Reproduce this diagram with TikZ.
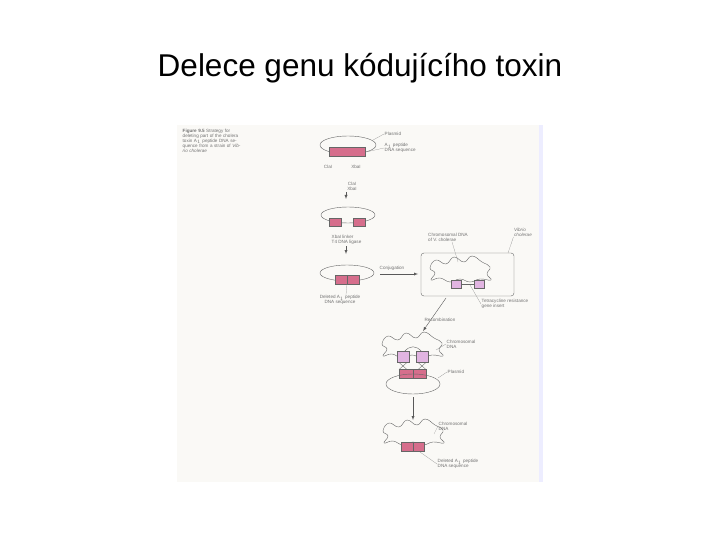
\documentclass[tikz,border=0pt]{standalone}
\usepackage{fontspec}
\setmainfont{Liberation Sans}
\usetikzlibrary{positioning,shapes}
\definecolor{gene}{RGB}{214,110,140}
\definecolor{tet}{RGB}{225,180,225}
\definecolor{paper}{RGB}{250,249,246}
\tikzset{
  lbl/.style={font=\fontsize{4.6}{5}\selectfont, text=black!55, align=left, inner sep=0.5pt},
  ring/.style={draw=black!60, thin},
  insert/.style={draw=black!60, fill=gene, line width=0.3pt},
  tetbox/.style={draw=black!60, fill=tet, line width=0.3pt},
  stage/.style={-latex, black!65, thin},
  lead/.style={black!45, line width=0.2pt}
}
\newcommand{\chromo}[2]{%
  \draw[ring, shift={(#1,#2)}] plot[smooth cycle, tension=0.8] coordinates
    {(-30,-2) (-24,-10) (-14,-6) (-6,-13) (4,-8) (12,-14) (22,-8) (30,-3)
     (27,4) (31,10) (20,9) (10,12) (0,9) (-10,12) (-20,8) (-29,10) (-25,3)};}
\begin{document}
\begin{tikzpicture}[x=1pt,y=-1pt]
  \useasboundingbox (0,0) rectangle (720,540);
  \node (title) at (360,68) {\fontsize{31.5}{36}\selectfont Delece genu kódujícího toxin};
  \fill[paper] (177,125) rectangle (543,482);
  \fill[blue!7] (539,125) rectangle (543,482);
  % caption
  \node[lbl, anchor=north west, text width=58pt] (cap) at (182,128)
    {\textbf{Figure 9.5} Strategy for deleting part of the cholera toxin A$_1$ peptide DNA sequence from a strain of \emph{Vibrio cholerae}};
  % plasmid with insert
  \draw[ring] (348,145) ellipse (28 and 9);
  \node[insert, minimum width=36pt, minimum height=9pt, inner sep=0] (g1) at (347,152) {};
  \node[lbl, anchor=west] (pl1) at (384,134) {Plasmid};
  \node[lbl, anchor=west] (a1) at (384,148) {A$_1$ peptide\\DNA sequence};
  \draw[lead] (pl1.west) -- (373,140);
  \draw[lead] (a1.west) -- (366,152);
  \node[lbl] (cla) at (328,167) {ClaI};
  \node[lbl] (xba) at (356,167) {XbaI};
  % digest
  \node[lbl, align=center] (dig) at (352,186) {ClaI\\XbaI};
  \coordinate (d1) at (346,192);
  \coordinate (d2) at (346,199);
  \draw[stage] (d1) -- (d2);
  \draw[ring] (348,215) ellipse (27 and 8);
  \node[insert, minimum width=12pt, minimum height=8pt, inner sep=0] (g2a) at (335,222) {};
  \node[insert, minimum width=12pt, minimum height=8pt, inner sep=0] (g2b) at (359,222) {};
  % ligation
  \node[lbl, anchor=west] (lig) at (331,240) {XbaI linker\\T4 DNA ligase};
  \coordinate (l1) at (346,246);
  \coordinate (l2) at (346,254);
  \draw[stage] (l1) -- (l2);
  \draw[ring] (347,273) ellipse (27 and 8);
  \node[insert, minimum width=24pt, minimum height=9pt, inner sep=0] (g3) at (347,280) {};
  \draw[black!60, line width=0.3pt] (347,276) -- (347,285);
  \node[lbl, align=center] (del1) at (340,300) {Deleted A$_1$ peptide\\DNA sequence};
  \draw[lead] (del1.north) ++(6,0) -- (347,284);
  % conjugation
  \node[lbl] (conj) at (392,268) {Conjugation};
  \coordinate (c1) at (380,274);
  \coordinate (c2) at (418,274);
  \draw[stage] (c1) -- (c2);
  \draw[black!60, thin, rounded corners=3pt] (421,253) rectangle (514,296);
  \node[lbl, font=\fontsize{4.6}{5}\selectfont\itshape] (vib) at (523,232) {Vibrio\\cholerae};
  \draw[lead] (vib.south west) -- (508,253);
  \chromo{460}{270}
  \node[tetbox, minimum width=10pt, minimum height=8pt, inner sep=0] (t1) at (456,284) {};
  \node[tetbox, minimum width=10pt, minimum height=8pt, inner sep=0] (t2) at (479,284) {};
  \draw[black!60, thin] (t1) -- (t2);
  \node[lbl] (chv) at (448,237) {Chromosomal DNA\\of V. cholerae};
  \draw[lead] (chv.south) ++(4,0) -- (458,262);
  \node[lbl, anchor=west] (tetr) at (481,304) {Tetracycline resistance\\gene insert};
  \draw[lead] (tetr.west) -- (470,285);
  % recombination
  \node[lbl] (rec) at (440,320) {Recombination};
  \coordinate (r1) at (446,298);
  \coordinate (r2) at (423,331);
  \draw[stage] (r1) -- (r2);
  \chromo{412}{346}
  \draw[black!60, thin] (404,352) .. controls (410,345) and (416,345) .. (422,352);
  \node[tetbox, minimum width=12pt, minimum height=11pt, inner sep=0] (t3) at (403,357) {};
  \node[tetbox, minimum width=12pt, minimum height=11pt, inner sep=0] (t4) at (422,357) {};
  \node[insert, minimum width=27pt, minimum height=9pt, inner sep=0] (g4) at (413,374) {};
  \draw[black!60, line width=0.3pt] (413,369) -- (413,378);
  \foreach \x in {403,422} {
    \draw[black!60, line width=0.3pt] (\x-4,362.5) -- (\x+4,369.5);
    \draw[black!60, line width=0.3pt] (\x+4,362.5) -- (\x-4,369.5);
  }
  \draw[ring] (413,384) ellipse (27 and 10);
  \node[lbl, anchor=west] (ch4) at (446,344) {Chromosomal\\DNA};
  \draw[lead] (ch4.west) -- (436,350);
  \node[lbl, anchor=west] (pl4) at (447,372) {Plasmid};
  \draw[lead] (pl4.west) -- (438,378);
  % result
  \coordinate (f1) at (413,397);
  \coordinate (f2) at (413,420);
  \draw[stage] (f1) -- (f2);
  \chromo{413}{433}
  \node[insert, minimum width=23pt, minimum height=9pt, inner sep=0] (g5) at (413,447) {};
  \draw[black!60, line width=0.3pt] (413,443) -- (413,452);
  \node[lbl, anchor=west] (ch5) at (438,426) {Chromosomal\\DNA};
  \draw[lead] (ch5.west) -- (434,434);
  \node[lbl, anchor=west] (del2) at (437,464) {Deleted A$_1$ peptide\\DNA sequence};
  \draw[lead] (del2.west) -- (420,452);
\end{tikzpicture}
\end{document}
